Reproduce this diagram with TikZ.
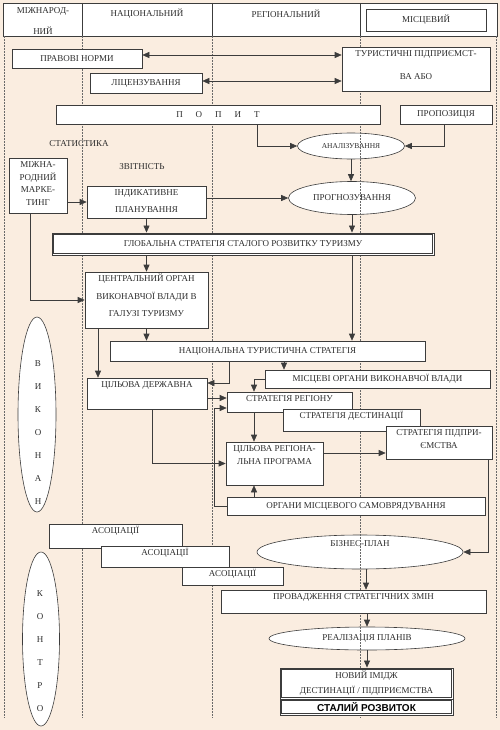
\documentclass[tikz,border=0pt]{standalone}
\usepackage{fontspec}
\setmainfont{Liberation Serif}
\newfontfamily\sansbold{Liberation Sans}
\usetikzlibrary{arrows.meta, shapes.geometric, positioning, calc}

\definecolor{PaperBeige}{RGB}{250,237,224}
\definecolor{LineGray}{RGB}{60,60,60}
\definecolor{TextGray}{RGB}{45,45,45}
\definecolor{GuideGray}{RGB}{105,105,105}

% text pinned to the top of a box: height, width, leading, text
\newcommand{\uptext}[4]{\parbox[c][#1][t]{#2}{\centering
  \fontsize{9}{#3}\selectfont\rule{0pt}{9.5pt}#4}}

\begin{document}
\begin{tikzpicture}[x=1pt,y=-1pt,
    box/.style={draw=LineGray,fill=white,line width=0.6pt,inner sep=0pt,
                font=\fontsize{9}{11}\selectfont,text=TextGray,align=center},
    dbox/.style={box,line width=0.9pt},
    oval/.style={ellipse,draw=LineGray,fill=white,line width=0.6pt,inner sep=0pt,
                 font=\fontsize{9}{11}\selectfont,text=TextGray},
    caption/.style={font=\fontsize{9}{11}\selectfont,text=TextGray,inner sep=0pt},
    letter/.style={font=\fontsize{9}{11}\selectfont,text=TextGray,inner sep=0pt},
    arr/.style={-{Triangle[length=7pt,width=6pt]},LineGray,line width=0.6pt},
    darr/.style={{Triangle[length=7pt,width=6pt]}-{Triangle[length=7pt,width=6pt]},
                 LineGray,line width=0.6pt},
    guide/.style={GuideGray,dash pattern=on 2pt off 1pt,line width=0.6pt}
  ]
  \useasboundingbox (0,0) rectangle (500,730);
  \fill[PaperBeige] (0,0) rectangle (500,730);

  % header row
  \draw[draw=LineGray,fill=white,line width=0.6pt] (3,3) rectangle (497,36);
  \foreach \x in {82,212,360} \draw[LineGray,line width=0.6pt] (\x,3) -- (\x,36);
  \node[caption,align=center,font=\fontsize{9}{21}\selectfont] (h_int) at (43,21.5)
    {МІЖНАРОД-\\НИЙ};
  \node[caption] (h_nat) at (147,14) {НАЦІОНАЛЬНИЙ};
  \node[caption] (h_reg) at (286,14) {РЕГІОНАЛЬНИЙ};
  \node[box,minimum width=120pt,minimum height=22pt] (h_loc) at (426,20) {МІСЦЕВИЙ};

  % ovals
  \node[oval,minimum width=107pt,minimum height=26pt,font=\fontsize{7.5}{9}\selectfont]
    (anal) at (351,146) {АНАЛІЗУВАННЯ};
  \node[oval,minimum width=127pt,minimum height=33pt] (prog) at (352,198) {ПРОГНОЗУВАННЯ};
  \node[oval,minimum width=206pt,minimum height=34pt] (biz) at (360,552)
    {\raisebox{6pt}[0pt][0pt]{БІЗНЕС-ПЛАН}};
  \node[oval,minimum width=196pt,minimum height=23pt] (real) at (367,638.5)
    {РЕАЛІЗАЦІЯ ПЛАНІВ};
  \node[oval,minimum width=38pt,minimum height=195pt] (vyk) at (37,414.5) {};
  \node[oval,minimum width=37pt,minimum height=174pt] (kontr) at (41,639) {};

  % column guides
  \foreach \x in {4,82,212,360,496} \draw[guide] (\x,36) -- (\x,718);

  \foreach \l [count=\i] in {В,И,К,О,Н,А,Н}
    \node[letter] (vyk\i) at (38,341+23*\i) {\l};
  \foreach \l [count=\i] in {К,О,Н,Т,Р,О}
    \node[letter] (kontr\i) at (40,571+23*\i) {\l};

  % top block
  \node[box,minimum width=130pt,minimum height=19pt] (prav) at (77,58.5) {ПРАВОВІ НОРМИ};
  \node[box,minimum width=112pt,minimum height=20pt] (lic) at (146,83) {ЛІЦЕНЗУВАННЯ};
  \node[box,minimum width=148pt,minimum height=44pt] (tur) at (416,69)
    {\uptext{44pt}{146pt}{23}{ТУРИСТИЧНІ ПІДПРИЄМСТ-\\ВА АБО}};
  \node[box,minimum width=324pt,minimum height=19pt] (popyt) at (218,114.5)
    {П\hspace{13pt}О\hspace{13pt}П\hspace{13pt}И\hspace{13pt}Т};
  \node[box,minimum width=92pt,minimum height=19pt] (propoz) at (446,114.5) {ПРОПОЗИЦІЯ};
  \node[caption] (stat) at (79,144) {СТАТИСТИКА};
  \node[caption] (zvit) at (142,167) {ЗВІТНІСТЬ};
  \node[box,minimum width=58pt,minimum height=55pt] (market) at (38,185.5)
    {\uptext{55pt}{56pt}{12.5}{МІЖНА-\\РОДНИЙ\\МАРКЕ-\\ТИНГ}};
  \node[box,minimum width=119pt,minimum height=32pt] (ind) at (146.5,202)
    {\uptext{32pt}{117pt}{17}{ІНДИКАТИВНЕ\\ПЛАНУВАННЯ}};
  \node[dbox,minimum width=382pt,minimum height=22pt] (glob) at (243,244)
    {ГЛОБАЛЬНА СТРАТЕГІЯ СТАЛОГО РОЗВИТКУ ТУРИЗМУ};

  % middle block
  \node[box,minimum width=123pt,minimum height=56pt] (central) at (146.5,300)
    {\uptext{56pt}{121pt}{17.5}{ЦЕНТРАЛЬНИЙ ОРГАН\\ВИКОНАВЧОЇ ВЛАДИ В\\ГАЛУЗІ ТУРИЗМУ}};
  \node[box,minimum width=315pt,minimum height=20pt] (nts) at (267.5,351)
    {НАЦІОНАЛЬНА ТУРИСТИЧНА СТРАТЕГІЯ};
  \node[box,minimum width=120pt,minimum height=31pt] (tsd) at (147,393.5)
    {\uptext{31pt}{118pt}{12}{ЦІЛЬОВА ДЕРЖАВНА}};
  \node[box,minimum width=225pt,minimum height=18pt] (mvo) at (377.5,379)
    {МІСЦЕВІ ОРГАНИ ВИКОНАВЧОЇ ВЛАДИ};
  \node[box,minimum width=125pt,minimum height=20pt] (str_reg) at (289.5,402)
    {\uptext{20pt}{123pt}{12}{СТРАТЕГІЯ РЕГІОНУ}};
  \node[box,minimum width=137pt,minimum height=22pt] (str_dest) at (351.5,420)
    {\uptext{22pt}{135pt}{12}{СТРАТЕГІЯ ДЕСТИНАЦІЇ}};
  \node[box,minimum width=106pt,minimum height=33pt] (str_pid) at (439,442.5)
    {\uptext{33pt}{104pt}{13}{СТРАТЕГІЯ ПІДПРИ-\\ЄМСТВА}};
  \node[box,minimum width=97pt,minimum height=43pt] (tsr) at (274.5,463.5)
    {\uptext{43pt}{95pt}{12.5}{ЦІЛЬОВА РЕГІОНА-\\ЛЬНА ПРОГРАМА}};
  \node[box,minimum width=258pt,minimum height=18pt] (oms) at (356,506)
    {ОРГАНИ МІСЦЕВОГО САМОВРЯДУВАННЯ};

  % bottom block
  \node[box,minimum width=133pt,minimum height=24pt] (as1) at (115.5,536)
    {\uptext{24pt}{131pt}{12}{АСОЦІАЦІЇ}};
  \node[box,minimum width=128pt,minimum height=21pt] (as2) at (165,556.5)
    {\uptext{21pt}{126pt}{12}{АСОЦІАЦІЇ}};
  \node[box,minimum width=101pt,minimum height=18pt] (as3) at (232.5,576)
    {\uptext{18pt}{99pt}{12}{АСОЦІАЦІЇ}};
  \node[box,minimum width=265pt,minimum height=23pt] (prov) at (353.5,601.5)
    {\uptext{23pt}{263pt}{12}{ПРОВАДЖЕННЯ СТРАТЕГІЧНИХ ЗМІН}};
  \node[dbox,minimum width=173pt,minimum height=31pt,font=\fontsize{9}{15}\selectfont]
    (image) at (366.5,683.5) {НОВИЙ ІМІДЖ\\ДЕСТИНАЦІЇ / ПІДПРИЄМСТВА};
  \node[dbox,minimum width=173pt,minimum height=16pt,text=black,
        font=\sansbold\bfseries\fontsize{10}{12}\selectfont]
    (stalyi) at (366.5,707) {СТАЛИЙ РОЗВИТОК};
  % inner frames of the double boxes
  \foreach \n in {glob,image,stalyi}
    \draw[LineGray,line width=0.5pt] ([shift={(2pt,2pt)}]\n.south west)
      rectangle ([shift={(-2pt,-2pt)}]\n.north east);

  % connectors
  \draw[darr] ([yshift=3.5pt]prav.east) -- ([yshift=3.5pt]prav.east -| tur.west);
  \draw[darr] ([yshift=2pt]lic.east) -- ([yshift=2pt]lic.east -| tur.west);
  \draw[arr] (popyt.south -| 257,0) |- (anal.west);
  \draw[arr] (propoz.south -| 444,0) |- (anal.east);
  \draw[arr] (anal.south) -- (anal.south |- prog.north);
  \draw[arr] (market.east |- ind.west) -- (ind.west);
  \draw[arr] (ind.east |- prog.west) -- (prog.west);
  \draw[arr] (ind.south) -- (ind.south |- glob.north);
  \draw[arr] (prog.south) -- (prog.south |- glob.north);
  \draw[arr] (market.south -| 30,0) |- (central.west);
  \draw[arr] (central.north |- glob.south) -- (central.north);
  \draw[arr] (glob.south -| prog.south) -- (nts.north -| prog.south);
  \draw[arr] (central.south) -- (central.south |- nts.north);
  \draw[arr] (central.south -| 98,0) -- (tsd.north -| 98,0);
  \draw[arr] (nts.south -| 229,0) |- ([yshift=10.5pt]tsd.east);
  \draw[arr] (nts.south -| 284,0) -- (mvo.north -| 284,0);
  \draw[arr] (mvo.west) -| (str_reg.north -| 254,0);
  \draw[arr] ([yshift=-4.5pt]tsd.east) -- ([yshift=-4.5pt]tsd.east -| str_reg.west);
  \draw[arr] (oms.west) -- (oms.west -| 214,0) |- ([yshift=-6pt]str_reg.west);
  \draw[arr] (str_reg.south -| 254,0) -- (tsr.north -| 254,0);
  \draw[arr] (tsd.south -| 152,0) |- (tsr.west);
  \draw[arr] ([yshift=10.5pt]tsr.east) -- ([yshift=10.5pt]tsr.east -| str_pid.west);
  \draw[arr] (oms.north -| 254,0) -- (tsr.south -| 254,0);
  \draw[arr] (str_pid.south -| 488,0) |- (biz.east);
  \draw[arr] (biz.south -| 366,0) -- (prov.north -| 366,0);
  \draw[arr] (prov.south -| real.north) -- (real.north);
  \draw[arr] (real.south) -- (real.south |- image.north);
\end{tikzpicture}
\end{document}
